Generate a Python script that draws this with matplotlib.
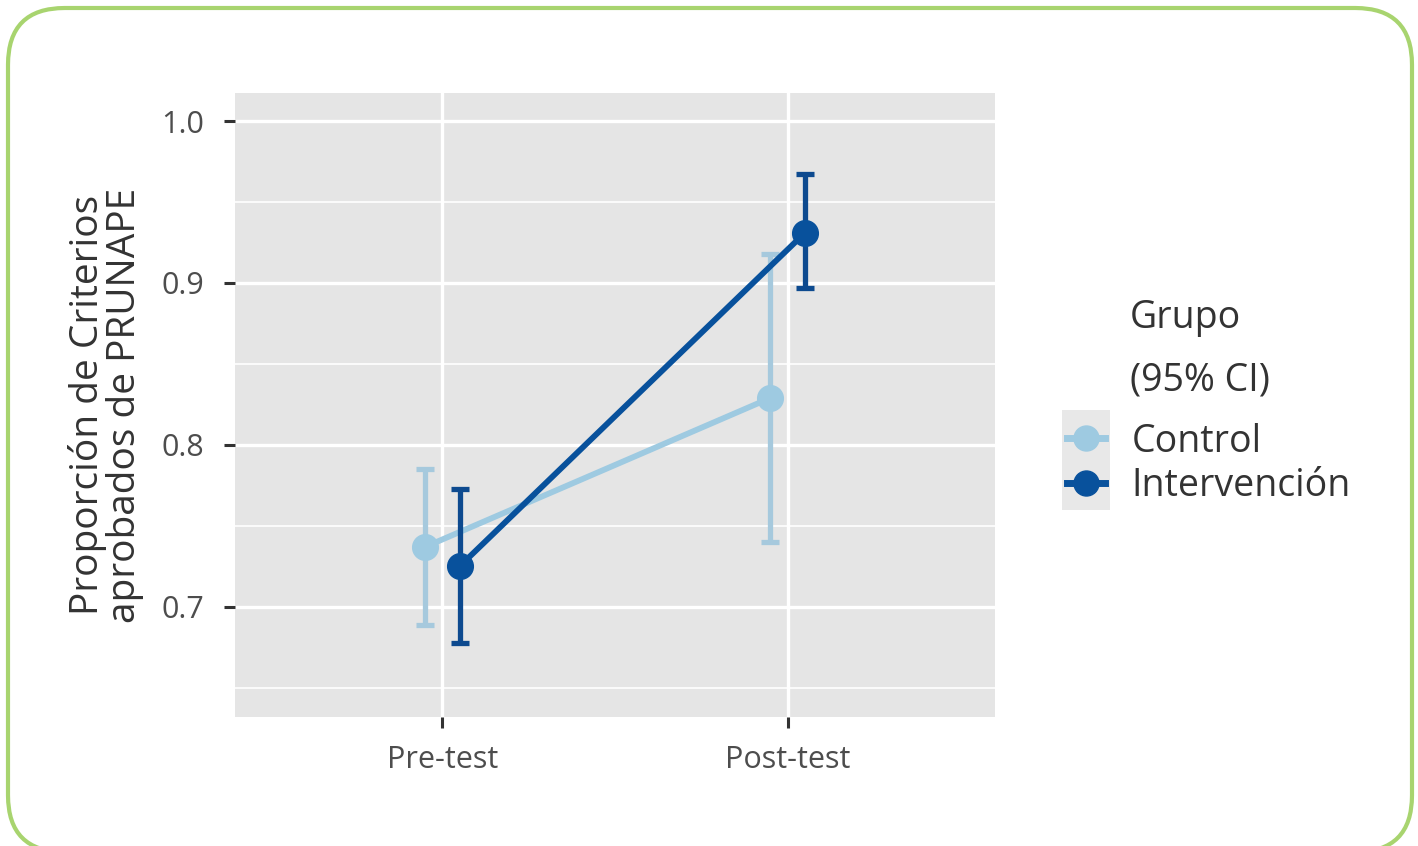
import matplotlib.pyplot as plt
from matplotlib.patches import FancyBboxPatch
from matplotlib.lines import Line2D

plt.rcParams['font.family'] = ['Open Sans', 'DejaVu Sans']

# data
momentos = ['Pre-test', 'Post-test']
grupos = ['Control', 'Intervención']
media_control = [0.737, 0.829]
ci_bajo_control = [0.689, 0.740]
ci_alto_control = [0.785, 0.918]
media_interv = [0.725, 0.931]
ci_bajo_interv = [0.678, 0.897]
ci_alto_interv = [0.773, 0.967]

colores = ['#9ecae1', '#08519c']
colores_barra = ['#a6c9dd', '#0d4a8f']

fig = plt.figure(figsize=(14.18, 8.46), dpi=100)

# rounded green frame (bottom edge runs off the picture)
borde = FancyBboxPatch((8 / 1418, -6 / 846), 1404 / 1418, 844 / 846,
                       boxstyle='round,pad=0,rounding_size=0.04',
                       transform=fig.transFigure, facecolor='none',
                       edgecolor='#a8d46f', linewidth=3, mutation_aspect=1418 / 846,
                       zorder=-1, clip_on=False)
fig.patches.append(borde)

ax = fig.add_axes([235 / 1418, 1 - 717 / 846, 760 / 1418, 624 / 846])
ax.set_facecolor('#e5e5e5')
for s in ax.spines.values():
    s.set_visible(False)

x = [1, 2]
dodge = 0.05
series = [
    (media_control, ci_bajo_control, ci_alto_control, -dodge),
    (media_interv, ci_bajo_interv, ci_alto_interv, dodge),
]
for i, (m, lo, hi, d) in enumerate(series):
    xs = [v + d for v in x]
    err = [[a - b for a, b in zip(m, lo)], [b - a for a, b in zip(m, hi)]]
    ax.errorbar(xs, m, yerr=err, fmt='none', ecolor=colores_barra[i],
                elinewidth=3.8, capsize=6.5, capthick=3.8, zorder=3 + i)
    ax.plot(xs, m, color=colores[i], lw=4.2, marker='o', markersize=18.5,
            zorder=4 + i)

ax.set_xlim(0.4, 2.6)
ax.set_ylim(0.632, 1.0173)
ax.set_xticks(x)
ax.set_xticklabels(momentos)
ax.set_yticks([0.7, 0.8, 0.9, 1.0])
ax.set_yticklabels(['0.7', '0.8', '0.9', '1.0'])
ax.set_yticks([0.65, 0.75, 0.85, 0.95], minor=True)
ax.grid(which='major', color='white', lw=2.4)
ax.grid(which='minor', axis='y', color='white', lw=1.2)
ax.set_axisbelow(True)
ax.tick_params(which='major', length=8, width=2.2, color='#333333',
               labelsize=22, labelcolor='#4d4d4d')
ax.tick_params(axis='x', which='major', pad=12)
ax.tick_params(axis='y', which='major', pad=14)
ax.tick_params(which='minor', length=0)

ax.set_ylabel('Proporción de Criterios\naprobados de PRUNAPE', fontsize=28,
              color='#333333', labelpad=13, linespacing=0.95)

# legend
fig.text(1130 / 1418, 1 - 318 / 846, 'Grupo', fontsize=27, color='#333333',
         va='center', ha='left')
fig.text(1130 / 1418, 1 - 380 / 846, '(95% CI)', fontsize=27, color='#333333',
         va='center', ha='left')
fondo = plt.Rectangle((1062 / 1418, 1 - 510 / 846), 48 / 1418, 100 / 846,
                      transform=fig.transFigure, facecolor='#e8e8e8',
                      edgecolor='none')
fig.patches.append(fondo)
handles = [Line2D([], [], color=colores[i], lw=5, marker='o', markersize=18)
           for i in range(2)]
fig.legend(handles, grupos, loc='center left',
           bbox_to_anchor=(1041 / 1418, 1 - 464 / 846), frameon=False,
           fontsize=27, handlelength=1.0, handletextpad=0.72,
           labelspacing=0.18, labelcolor='#333333', borderpad=0.2)

fig.savefig('out.png', dpi=100)
